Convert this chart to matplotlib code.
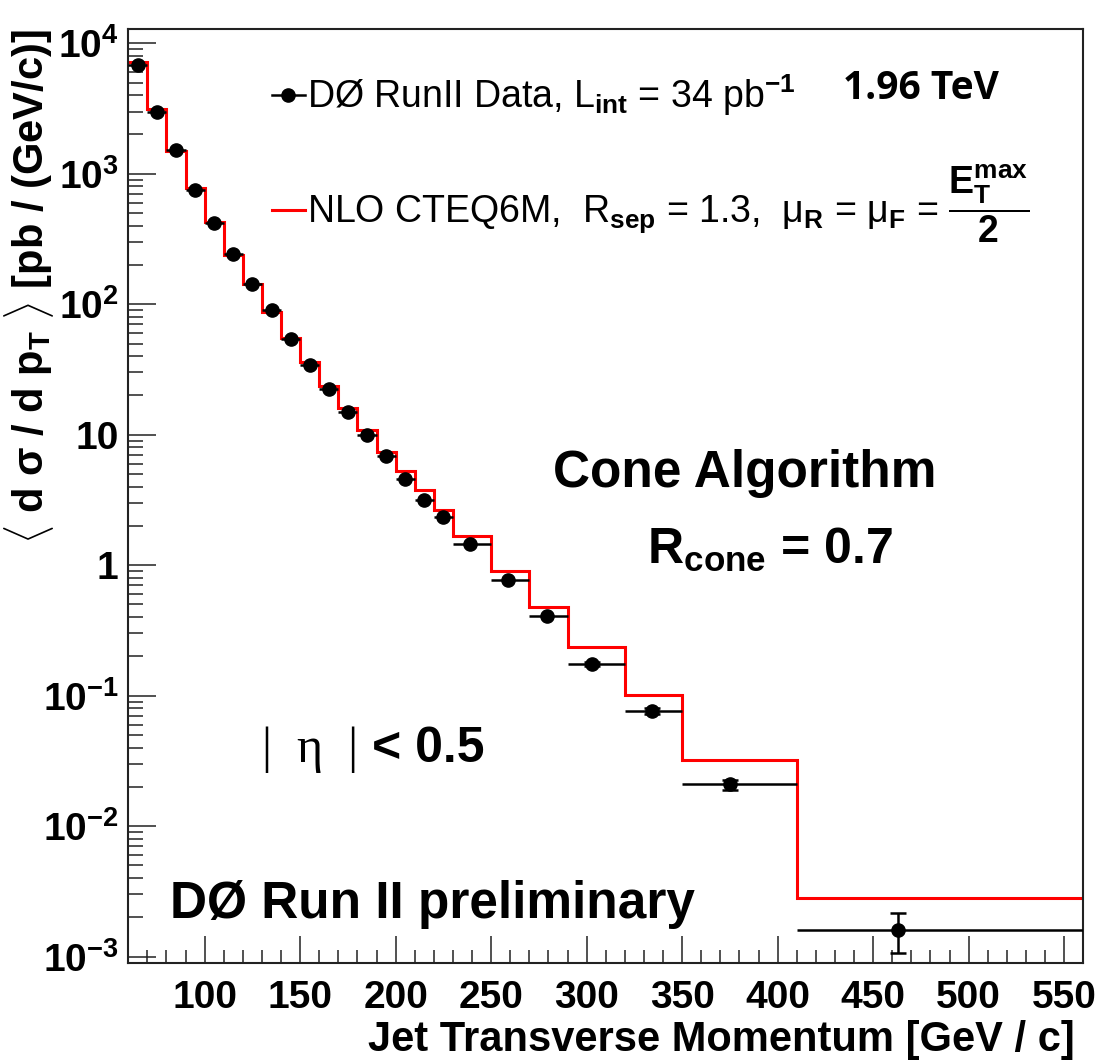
"""Inclusive jet cross section vs jet pT, DØ Run II preliminary (cone R=0.7, |eta|<0.5)."""

from __future__ import annotations

import matplotlib

matplotlib.use("Agg")

import matplotlib.pyplot as plt
import numpy as np
from matplotlib.lines import Line2D
from matplotlib.ticker import FixedLocator, FuncFormatter, MultipleLocator, NullFormatter

# bin edges in jet pT [GeV/c]
bin_edges = [60, 70, 80, 90, 100, 110, 120, 130, 140, 150, 160, 170, 180, 190,
             200, 210, 220, 230, 250, 270, 290, 320, 350, 410, 560]

# measured points: plotted pT and cross section [pb / (GeV/c)]
data_pt = [65, 75, 85, 95, 105, 115, 125, 135, 145, 155, 165, 175, 185, 195,
           205, 215, 225, 239, 259, 279, 303, 334, 375, 463]
data_xsec = [6820, 2990, 1520, 750, 421, 241, 143, 90, 54.5, 34.5, 22.6, 15.0,
             9.9, 6.84, 4.61, 3.15, 2.34, 1.445, 0.773, 0.406, 0.176, 0.0762,
             0.0209, 0.00161]
data_err_lo = [0, 0, 0, 0, 0, 0, 0, 0, 0, 0, 0, 0, 0, 0, 0, 0, 0, 0, 0, 0,
               0.006, 0.004, 0.0018, 0.00055]
data_err_hi = [0, 0, 0, 0, 0, 0, 0, 0, 0, 0, 0, 0, 0, 0, 0, 0, 0, 0, 0, 0,
               0.006, 0.004, 0.0018, 0.00055]

# NLO CTEQ6M prediction per bin
nlo_xsec = [7230, 3130, 1493, 773, 428, 238, 144, 87.5, 55.6, 36.1, 23.5, 15.9,
            10.8, 7.38, 5.28, 3.75, 2.67, 1.666, 0.903, 0.478, 0.236, 0.1005,
            0.0319, 0.00282]

x_major_ticks = [100, 150, 200, 250, 300, 350, 400, 450, 500, 550]
y_decades = [-3, -2, -1, 0, 1, 2, 3, 4]

SANS = "Liberation Sans"
plt.rcParams["font.family"] = [SANS, "DejaVu Sans"]
plt.rcParams["font.weight"] = "bold"
plt.rcParams["mathtext.fontset"] = "custom"
plt.rcParams["mathtext.rm"] = SANS
plt.rcParams["mathtext.it"] = f"{SANS}:italic"
plt.rcParams["mathtext.bf"] = f"{SANS}:bold"
plt.rcParams["mathtext.sf"] = SANS


def _log_label(value: float, _pos: int) -> str:
    exp = int(round(np.log10(value)))
    if exp == 0:
        return "1"
    if exp == 1:
        return "10"
    return rf"$\mathbf{{10^{{{exp}}}}}$"


def main() -> None:
    fig = plt.figure(figsize=(11.01, 10.61), dpi=100)
    ax = fig.add_axes([0.1165, 0.0921, 0.8674, 0.8803])

    edges = np.asarray(bin_edges, dtype=float)
    pt = np.asarray(data_pt, dtype=float)
    xs = np.asarray(data_xsec, dtype=float)
    x_lo = pt - edges[:-1]
    x_hi = edges[1:] - pt

    ax.stairs(nlo_xsec, edges, baseline=None, color="#ff0000", lw=2.2, zorder=2)
    ax.errorbar(pt, xs, xerr=[x_lo, x_hi], fmt="o", color="black", ms=9.5,
                elinewidth=1.8, capsize=0, zorder=3)
    err_lo = np.asarray(data_err_lo)
    err_hi = np.asarray(data_err_hi)
    has_err = (err_lo > 0) | (err_hi > 0)
    ax.errorbar(pt[has_err], xs[has_err], yerr=[err_lo[has_err], err_hi[has_err]],
                fmt="none", ecolor="black", elinewidth=1.8, capsize=6, capthick=1.8,
                zorder=3)

    ax.set_xlim(60, 560)
    ax.set_yscale("log")
    ax.set_ylim(8.9e-4, 1.28e4)

    y_major = [10.0 ** e for e in y_decades]
    y_minor = [m * 10.0 ** e for e in y_decades for m in range(2, 10)
               if m * 10.0 ** e < 1.28e4]
    ax.xaxis.set_major_locator(FixedLocator(x_major_ticks))
    ax.xaxis.set_minor_locator(MultipleLocator(10))
    ax.yaxis.set_major_locator(FixedLocator(y_major))
    ax.yaxis.set_minor_locator(FixedLocator(y_minor))
    ax.yaxis.set_major_formatter(FuncFormatter(_log_label))
    ax.yaxis.set_minor_formatter(NullFormatter())

    ax.tick_params(which="both", direction="in", top=False, right=False,
                   width=1.1, color="#222222")
    ax.tick_params(axis="y", which="major", length=20, pad=7, labelsize=28)
    ax.tick_params(axis="y", which="minor", length=10.5)
    ax.tick_params(axis="x", which="major", length=19.5, pad=12, labelsize=28)
    ax.tick_params(axis="x", which="minor", length=9.5)
    for spine in ax.spines.values():
        spine.set_linewidth(1.5)
        spine.set_color("#222222")

    ax.set_xlabel("Jet Transverse Momentum [GeV / c]", fontsize=30,
                  fontweight="bold", loc="right")
    ax.xaxis.set_label_coords(0.9913, -0.061)
    ax.set_ylabel(r"$\langle$ d σ / d p$_\mathbf{T}$ $\rangle$ [pb / (GeV/c)]",
                  fontsize=30, fontweight="bold", loc="top")
    ax.yaxis.set_label_coords(-0.076, 1.0)

    handles = [
        Line2D([], [], color="black", marker="o", ms=9.5, lw=1.8),
        Line2D([], [], color="#ff0000", lw=2.2),
    ]
    labels = [
        r"DØ RunII Data, L$_\mathrm{int}$ = 34 pb$^\mathrm{-1}$",
        r"NLO CTEQ6M,  R$_\mathrm{sep}$ = 1.3,  μ$_\mathrm{R}$ = μ$_\mathrm{F}$ = "
        r"$\dfrac{\mathrm{E}_\mathrm{T}^\mathrm{max}}{\mathrm{2}}$",
    ]
    ax.legend(handles, labels, loc="upper left", bbox_to_anchor=(0.150, 0.954),
              frameon=False, borderpad=0, borderaxespad=0, handlelength=0.9,
              handletextpad=0.05, labelspacing=1.2,
              prop={"family": SANS, "weight": "normal", "size": 27})

    ax.text(0.748, 0.925, "1.96 TeV", transform=ax.transAxes, fontsize=28,
            fontweight="bold", family=["Open Sans", "DejaVu Sans"], va="baseline")
    ax.text(0.6458, 0.5103, "Cone Algorithm", transform=ax.transAxes,
            fontsize=37, fontweight="bold", ha="center", va="baseline")
    ax.text(0.5431, 0.428, r"R$_\mathrm{cone}$ = 0.7", transform=ax.transAxes,
            fontsize=36, fontweight="bold", ha="left", va="baseline")
    ax.text(0.140, 0.2158, "|\u2002η\u2002|", transform=ax.transAxes, fontsize=36,
            fontweight="normal", family=["Liberation Serif", "DejaVu Serif"],
            va="baseline")
    ax.text(0.2549, 0.2158, "< 0.5", transform=ax.transAxes, fontsize=36,
            fontweight="bold", va="baseline")
    ax.text(0.0439, 0.0482, "DØ Run II preliminary", transform=ax.transAxes,
            fontsize=37, fontweight="bold", va="baseline")

    fig.savefig("out.png", dpi=100)
    plt.close(fig)


if __name__ == "__main__":
    main()
